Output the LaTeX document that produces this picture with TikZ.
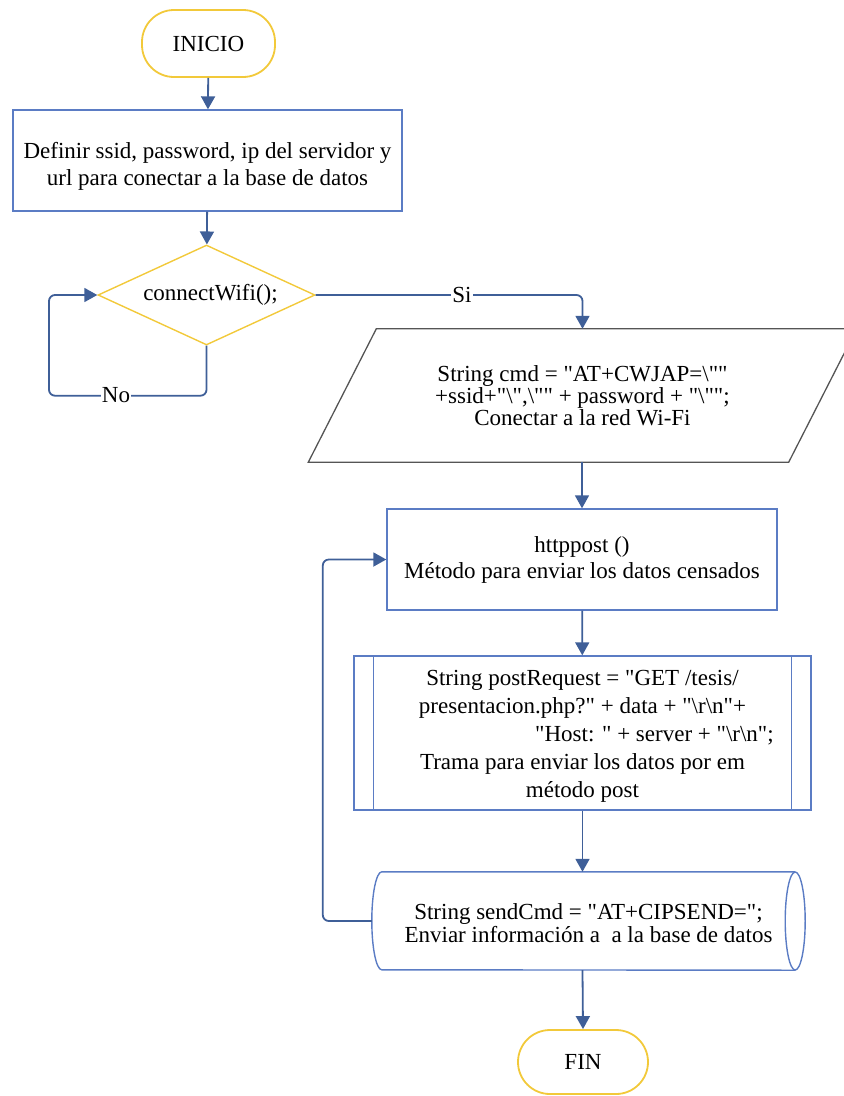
\documentclass[tikz,border=0pt]{standalone}
\usepackage{fontspec}
\setmainfont{Liberation Serif}[Ligatures=TeXOff]
\usetikzlibrary{arrows.meta,shapes.geometric,calc}
\definecolor{conn}{HTML}{3F5F98}
\definecolor{boxblue}{HTML}{5B7CC4}
\definecolor{termy}{HTML}{F2C93A}
\definecolor{iogray}{HTML}{555555}
\newcommand{\dropby}[2]{\raisebox{-#1}[\height][\depth]{#2}}
\begin{document}
\begin{tikzpicture}[x=1pt,y=-1pt,
  txt/.style={font=\fontsize{23}{27}\selectfont, align=center, text=black},
  term/.style={txt, draw=termy, line width=1.8pt, rounded corners=32pt, inner sep=0pt},
  procbox/.style={txt, draw=boxblue, line width=1.4pt, inner sep=0pt},
  decbox/.style={txt, draw=termy, line width=1.4pt, diamond, aspect=2.17, inner sep=0pt},
  plain/.style={txt, inner sep=0pt},
  flow/.style={draw=conn, line width=1.8pt, -{Triangle[length=13pt,width=14pt]}},
  lbl/.style={font=\fontsize{23}{27}\selectfont, fill=white, inner sep=1pt, text=black}
]
\useasboundingbox (0,0) rectangle (844,1096);
\clip (0,0) rectangle (844,1096);

% nodes
\node[term, minimum width=133pt, minimum height=67pt] (inicio) at (208.5,43.5) {INICIO};
\node[procbox, minimum width=389pt, minimum height=101pt] (def) at (207.5,160.5)
  {\dropby{6pt}{\begin{tabular}{@{}c@{}}Definir ssid, password, ip del servidor y\\url para conectar a la base de datos\end{tabular}}};
\node[decbox, minimum width=217pt, minimum height=100pt] (dec) at (206.5,295) {\hspace*{8pt}connectWifi();};

\node[plain, minimum width=480pt, minimum height=133pt, font=\fontsize{23}{20.5}\selectfont] (io) at (582.5,395.5)
  {String cmd = "AT+CWJAP=\textbackslash""\\
   +ssid+"\textbackslash",\textbackslash"" + password + "\textbackslash"";\\
   Conectar a la red Wi-Fi};
\draw[draw=iogray, line width=1.3pt]
  ([xshift=-34pt]io.south west) -- ([xshift=34pt]io.north west) --
  ([xshift=34pt]io.north east) -- ([xshift=-34pt]io.south east) -- cycle;

\node[procbox, minimum width=390pt, minimum height=101pt, font=\fontsize{23}{26}\selectfont] (http) at (582,559.5)
  {httppost ()\\M\'etodo para enviar los datos censados};

\node[procbox, minimum width=457pt, minimum height=154pt, font=\fontsize{23}{28}\selectfont] (post) at (582.5,733)
  {\dropby{3pt}{\begin{tabular}{@{}c@{}}String postRequest = "GET /tesis/\\
   presentacion.php?" + data + "\textbackslash r\textbackslash n"+\\
   \hspace*{144pt}"Host: " + server + "\textbackslash r\textbackslash n";\\
   Trama para enviar los datos por em\\
   m\'etodo post\end{tabular}}};
\draw[draw=boxblue, line width=1.4pt] ([xshift=20pt]post.north west) -- ([xshift=20pt]post.south west);
\draw[draw=boxblue, line width=1.4pt] ([xshift=-20pt]post.north east) -- ([xshift=-20pt]post.south east);

\node[plain, minimum width=413pt, minimum height=98pt, font=\fontsize{23}{22}\selectfont] (store) at (588.5,921)
  {\dropby{5pt}{\begin{tabular}{@{}c@{}}String sendCmd = "AT+CIPSEND=";\\Enviar informaci\'on a\ \ a la base de datos\end{tabular}}};
\draw[draw=boxblue, line width=1.4pt]
  (store.north east) -- (store.north west)
  arc[start angle=90, end angle=270, x radius=10pt, y radius=49pt]
  -- (store.south east);
\draw[draw=boxblue, line width=1.4pt] (store.east) ellipse [x radius=10pt, y radius=49pt];
\coordinate (storeleft) at ([xshift=-10pt]store.west);

\node[term, minimum width=130pt, minimum height=64pt] (fin) at (583,1062) {FIN};

% connectors
\draw[flow] (inicio) -- (def);
\draw[flow] (def) -- (dec);
\draw[flow, rounded corners=6pt] (dec.east) -- (io.north |- dec.east) -- (io.north);
\node[lbl] (silbl) at (462,295) {Si};
\draw[flow, rounded corners=6pt] (dec.south) -- ++(0,50) -- ++(-157.5,0) |- (dec.west);
\node[lbl] (nolbl) at (116,395) {No};
\draw[flow] (io.south -| http.north) -- (http.north);
\draw[flow] (http) -- (post);
\draw[flow] (post.south) -- (post.south |- store.north);
\draw[flow, rounded corners=6pt] (storeleft) -- ++(-49,0) |- (http.west);
\draw[flow] (post.south |- store.south) -- (fin.north);
\end{tikzpicture}
\end{document}
